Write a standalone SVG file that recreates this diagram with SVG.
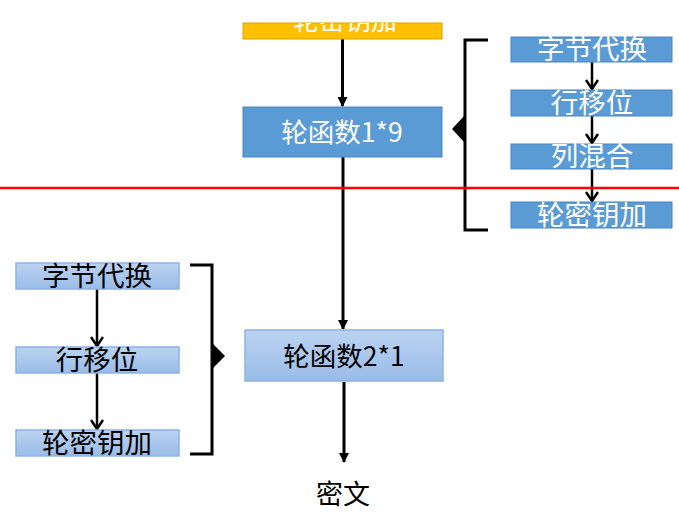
<svg xmlns="http://www.w3.org/2000/svg" width="679" height="514" viewBox="0 0 679 514">
<style>
text{font-family:"Noto Sans CJK SC","Noto Sans",sans-serif;text-anchor:middle}
.w{fill:#fff}
.k{fill:#000}
.dark{fill:#5B9BD5;stroke:#4A86C0;stroke-width:1}
.light{fill:url(#lg);stroke:#8DB3E2;stroke-width:1.5}
.ln{stroke:#000;stroke-width:3;fill:none}
.sm{stroke:#000;stroke-width:2.5;fill:none}
</style>
<defs>
<linearGradient id="lg" x1="0" y1="0" x2="0" y2="1">
<stop offset="0" stop-color="#BCD3F1"/>
<stop offset="1" stop-color="#99BCE8"/>
</linearGradient>
<marker id="ah" markerWidth="10" markerHeight="10" refX="9" refY="5" orient="auto" markerUnits="userSpaceOnUse">
<path d="M0,0 L10,5 L0,10 Z" fill="#000"/>
</marker>
<marker id="av" markerWidth="12" markerHeight="14" refX="10" refY="7" orient="auto" markerUnits="userSpaceOnUse">
<path d="M1,1 L10,7 L1,13" fill="none" stroke="#000" stroke-width="2.5"/>
</marker>
<clipPath id="yc"><rect x="243" y="23" width="199" height="16"/></clipPath>
</defs>

<g id="connectors">
<line class="ln" x1="342.5" y1="39" x2="342.5" y2="106" marker-end="url(#ah)"/>
<line class="ln" x1="343" y1="157" x2="343" y2="329" marker-end="url(#ah)"/>
<line class="ln" x1="344" y1="382" x2="344" y2="462" marker-end="url(#ah)"/>
<line class="sm" x1="592" y1="62" x2="592" y2="89" marker-end="url(#av)"/>
<line class="sm" x1="592" y1="116" x2="592" y2="143" marker-end="url(#av)"/>
<line class="sm" x1="592" y1="169" x2="592" y2="201" marker-end="url(#av)"/>
<line class="sm" x1="97" y1="289" x2="97" y2="346" marker-end="url(#av)"/>
<line class="sm" x1="97" y1="373" x2="97" y2="429" marker-end="url(#av)"/>
</g>

<g id="init">
<rect x="243" y="23" width="199" height="16" fill="#FFC000" stroke="#D9A300" stroke-width="1"/>
<text class="w" x="345" y="30" font-size="26" clip-path="url(#yc)">轮密钥加</text>
</g>

<g id="round1">
<rect class="dark" x="243" y="107" width="199" height="50"/>
<text class="w" x="342" y="142" font-size="26.5">轮函数1*9</text>
</g>

<g id="round2">
<rect class="light" x="245" y="330" width="198" height="51"/>
<text class="k" x="344" y="366" font-size="26.5">轮函数2*1</text>
</g>

<g id="cipher">
<text class="k" x="343" y="504" font-size="27">密文</text>
</g>

<g id="r-sub">
<rect class="dark" x="511" y="37" width="161" height="25"/>
<text class="w" x="592" y="59" font-size="27.5">字节代换</text>
</g>
<g id="r-shift">
<rect class="dark" x="511" y="90" width="161" height="26"/>
<text class="w" x="592" y="113" font-size="27.5">行移位</text>
</g>
<g id="r-mix">
<rect class="dark" x="511" y="144" width="161" height="25"/>
<text class="w" x="592" y="166" font-size="27.5">列混合</text>
</g>
<g id="r-key">
<rect class="dark" x="511" y="202" width="161" height="26"/>
<text class="w" x="592" y="225" font-size="27.5">轮密钥加</text>
</g>

<g id="l-sub">
<rect class="light" x="16" y="263" width="163" height="26"/>
<text class="k" x="97" y="286" font-size="27.5">字节代换</text>
</g>
<g id="l-shift">
<rect class="light" x="16" y="347" width="163" height="26"/>
<text class="k" x="97" y="370" font-size="27.5">行移位</text>
</g>
<g id="l-key">
<rect class="light" x="16" y="430" width="163" height="26"/>
<text class="k" x="97" y="453" font-size="27.5">轮密钥加</text>
</g>

<g id="bracket-right">
<path class="ln" d="M488,40 H465 V230 H488"/>
<polygon points="465,115 452,129 465,143" fill="#000"/>
</g>
<g id="bracket-left">
<path class="ln" d="M190,265 H212 V454 H190"/>
<polygon points="212,343 225,356 212,369" fill="#000"/>
</g>

<line id="red-line" x1="0" y1="188" x2="679" y2="188" stroke="#FF0000" stroke-width="2.5"/>
</svg>
